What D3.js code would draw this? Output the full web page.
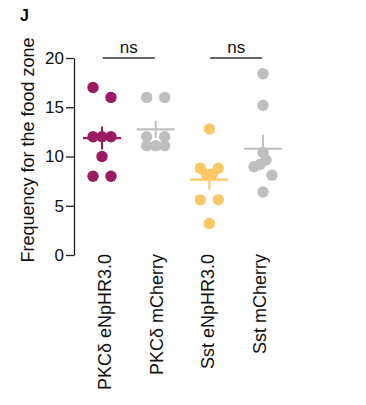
<!DOCTYPE html>
<html>
<head>
<meta charset="utf-8">
<script src="https://cdn.jsdelivr.net/npm/d3@7"></script>
<style>
  html, body { margin: 0; padding: 0; background: #fff; }
  svg { display: block; font-family: "Liberation Sans", Arial, Helvetica, sans-serif; }
</style>
</head>
<body>
<div id="chart"></div>
<script>
// Groups (x categories)
const groups = ["PKCδ eNpHR3.0", "PKCδ mCherry", "Sst eNpHR3.0", "Sst mCherry"];

// Frequency for the food zone, one value per animal
const pkcNphr    = [17, 16, 12, 12, 12, 10, 8, 8];
const pkcMcherry = [16, 16, 12, 12, 11.1, 11.1, 11.1];
const sstNphr    = [12.8, 8.8, 8.2, 8.2, 8.8, 5.6, 5.6, 3.2];
const sstMcherry = [18.4, 15.2, 10.4, 8.96, 9.2, 9.65, 8.1, 6.4];

const groupColors = ["#9b1b62", "#bfbfbf", "#fcc865", "#bfbfbf"];
const yTicks = [0, 5, 10, 15, 20];

// Pairwise comparisons drawn above the data
const comparisons = [
  ["PKCδ eNpHR3.0", "PKCδ mCherry", "ns"],
  ["Sst eNpHR3.0", "Sst mCherry", "ns"]
];

const seriesValues = [pkcNphr, pkcMcherry, sstNphr, sstMcherry];

const W = 366, H = 405;
const svg = d3.select("#chart").append("svg")
  .attr("width", W).attr("height", H);

const y = d3.scaleLinear().domain([0, 20]).range([255, 58]);
const x = d3.scalePoint().domain(groups).range([102, 263]);
const xLabel = d3.scalePoint().domain(groups).range([111, 266]);

const axisColor = "#231f20";

// Panel letter
svg.append("text")
  .attr("x", 20).attr("y", 21)
  .attr("font-size", 16).attr("font-weight", "bold")
  .attr("fill", "#000")
  .text("J");

// Y axis
const yAxis = svg.append("g")
  .attr("transform", "translate(74,0)")
  .call(d3.axisLeft(y).tickValues(yTicks).tickSize(8).tickSizeOuter(0).tickPadding(2));
yAxis.select(".domain").attr("stroke", axisColor).attr("stroke-width", 1.3);
yAxis.selectAll(".tick line").attr("stroke", axisColor).attr("stroke-width", 1.3);
yAxis.selectAll(".tick text")
  .attr("font-size", 17)
  .attr("font-family", "'Liberation Sans', Arial, sans-serif")
  .attr("fill", "#111");

// Y title
svg.append("text")
  .attr("transform", "translate(34,150) rotate(-90)")
  .attr("text-anchor", "middle")
  .attr("font-size", 18)
  .attr("fill", "#111")
  .text("Frequency for the food zone");

// X labels (rotated)
svg.append("g").selectAll("text")
  .data(groups)
  .join("text")
  .attr("transform", d => `translate(${xLabel(d)},254) rotate(-90)`)
  .attr("text-anchor", "end")
  .attr("font-size", 18)
  .attr("fill", "#111")
  .text(d => d);

// Scatter layout: points are binned into rows of 2 units and spread evenly
// across a fixed row width, in the order they are listed.
const rowWidth = 18;
const r = 5.7;
function layout(values) {
  const rows = d3.group(values.map((v, i) => ({ v, i })), d => Math.floor(d.v / 2));
  const offsets = new Array(values.length).fill(0);
  for (const members of rows.values()) {
    const n = members.length;
    members.forEach((m, k) => {
      offsets[m.i] = n === 1 ? 0 : -rowWidth / 2 + k * rowWidth / (n - 1);
    });
  }
  return offsets;
}

const plot = svg.append("g");
groups.forEach((g, gi) => {
  const vals = seriesValues[gi];
  const offs = layout(vals);
  const color = groupColors[gi];
  const cx = x(g);

  plot.append("g").selectAll("circle")
    .data(vals)
    .join("circle")
    .attr("cx", (d, i) => cx + offs[i])
    .attr("cy", d => y(d))
    .attr("r", r)
    .attr("fill", color);

  const m = d3.mean(vals);
  const sem = d3.deviation(vals) / Math.sqrt(vals.length);

  plot.append("line")
    .attr("x1", cx - 19).attr("x2", cx + 19)
    .attr("y1", y(m)).attr("y2", y(m))
    .attr("stroke", color).attr("stroke-width", 2.2);
  plot.append("line")
    .attr("x1", cx).attr("x2", cx)
    .attr("y1", y(m + sem)).attr("y2", y(m - sem))
    .attr("stroke", color).attr("stroke-width", 2);
});

// Comparison bars
const sig = svg.append("g");
comparisons.forEach(([a, b, label]) => {
  const mid = (x(a) + x(b)) / 2;
  sig.append("line")
    .attr("x1", mid - 26).attr("x2", mid + 26)
    .attr("y1", 58).attr("y2", 58)
    .attr("stroke", "#333").attr("stroke-width", 1.4);
  sig.append("text")
    .attr("x", mid).attr("y", 53)
    .attr("text-anchor", "middle")
    .attr("font-size", 17)
    .attr("fill", "#111")
    .text(label);
});
</script>
</body>
</html>
